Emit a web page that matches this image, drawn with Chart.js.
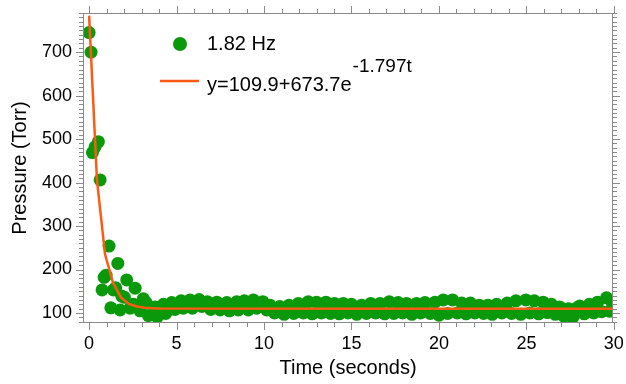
<!DOCTYPE html>
<html>
<head>
<meta charset="utf-8">
<script src="https://cdn.jsdelivr.net/npm/chart.js@4/dist/chart.umd.min.js"></script>
<style>
  html, body { margin: 0; padding: 0; background: #fff; }
</style>
</head>
<body>
<canvas id="chart" width="626" height="384"></canvas>
<script>
// measured points (seconds, Torr)
const times = [
  0.00, 0.11, 0.19, 0.34, 0.53, 0.63, 0.74, 0.86, 0.97, 1.14,
  1.24, 1.39, 1.52, 1.64, 1.77, 1.86, 2.02, 2.15, 2.34, 2.53,
  2.63, 2.91, 3.10, 3.26, 3.39, 3.77, 3.90, 4.25, 4.38, 4.72,
  4.91, 5.26, 5.39, 5.77, 5.90, 6.29, 6.44, 6.76, 6.95, 7.30,
  7.49, 7.87, 8.02, 8.44, 8.53, 8.87, 9.10, 9.39, 9.58, 9.93,
  10.15, 10.34, 10.60, 10.90, 11.15, 11.43, 11.70, 11.96, 12.25, 12.53,
  12.75, 13.00, 13.28, 13.54, 13.80, 14.03, 14.30, 14.53, 14.80, 15.00,
  15.30, 15.58, 15.85, 16.10, 16.38, 16.63, 16.90, 17.16, 17.42, 17.67,
  17.92, 18.15, 18.45, 18.72, 18.95, 19.20, 19.50, 19.77, 20.00, 20.25,
  20.50, 20.78, 21.05, 21.30, 21.55, 21.80, 22.05, 22.30, 22.55, 22.80,
  23.05, 23.30, 23.60, 23.90, 24.15, 24.40, 24.68, 24.97, 25.20, 25.45,
  25.70, 25.96, 26.20, 26.43, 26.65, 26.90, 27.15, 27.40, 27.65, 27.90,
  28.05, 28.30, 28.60, 28.85, 29.07, 29.30, 29.58, 29.75, 29.90
];
const pressure = [
  745, 700, 469, 482, 494, 406, 153, 182, 187, 254,
  112, 153, 158, 214, 107, 139, 136, 176, 111, 120,
  157, 105, 133, 124, 94, 114, 91, 120, 99, 124,
  108, 128, 111, 130, 111, 131, 115, 126, 108, 125,
  107, 124, 105, 126, 107, 128, 107, 130, 111, 126,
  107, 118, 100, 115, 97, 118, 99, 122, 100, 126,
  98, 125, 100, 125, 99, 122, 98, 122, 100, 120,
  97, 118, 99, 122, 100, 122, 98, 126, 99, 124,
  100, 122, 97, 122, 100, 124, 99, 125, 95, 130,
  99, 130, 100, 123, 98, 123, 100, 118, 99, 118,
  97, 120, 100, 123, 99, 128, 97, 130, 100, 128,
  98, 125, 101, 120, 97, 114, 92, 110, 90, 112,
  116, 98, 120, 100, 125, 103, 135, 104, 125
];

// fitted curve as drawn
const fitTimes  = [0, 0.45, 0.91, 1.36, 1.82, 2.27, 2.73, 3.18, 3.64, 4.10, 30];
const fitValues = [784, 405, 235, 170, 136, 121, 115, 112, 111, 110.5, 110];

const xTicks = [0, 5, 10, 15, 20, 25, 30];
const yTicks = [100, 200, 300, 400, 500, 600, 700];

const seriesLabel = '1.82 Hz';
const fitLabel = 'y=109.9+673.7e';
const fitExp = '-1.797t';

const dotColor = '#0a990a';
const lineColor = '#ff5a14';
const axisColor = '#8a8a8a';
const FONT = "'Liberation Sans', Arial, sans-serif";

// frame, minor ticks and the legend
const frameTicks = {
  id: 'frameTicks',
  afterDraw(chart) {
    const { ctx, chartArea: a, scales: { x, y } } = chart;
    ctx.save();
    ctx.strokeStyle = axisColor;
    ctx.lineWidth = 1;
    ctx.strokeRect(a.left + 0.5, a.top + 0.5, a.right - a.left - 1, a.bottom - a.top - 1);
    ctx.beginPath();
    for (let v = 0; v <= 30; v++) {
      const px = Math.round(x.getPixelForValue(v)) + 0.5;
      const len = v % 5 === 0 ? 7 : 4;
      ctx.moveTo(px, a.bottom); ctx.lineTo(px, a.bottom + len);
      ctx.moveTo(px, a.top); ctx.lineTo(px, a.top - len);
    }
    for (let v = 80; v <= 790; v += 10) {
      const py = Math.round(y.getPixelForValue(v)) + 0.5;
      const len = v % 100 === 0 ? 7 : 4;
      ctx.moveTo(a.left, py); ctx.lineTo(a.left - len, py);
      ctx.moveTo(a.right, py); ctx.lineTo(a.right + len, py);
    }
    ctx.stroke();

    // legend
    const lx = a.left + 97, ly = a.top + 31;
    ctx.fillStyle = dotColor;
    ctx.beginPath();
    ctx.arc(lx, ly, 7, 0, Math.PI * 2);
    ctx.fill();
    ctx.fillStyle = '#000';
    ctx.font = '20px ' + FONT;
    ctx.textBaseline = 'middle';
    ctx.fillText(seriesLabel, lx + 27, ly);

    const ly2 = ly + 37;
    ctx.strokeStyle = lineColor;
    ctx.lineWidth = 2.5;
    ctx.beginPath();
    ctx.moveTo(lx - 20, ly2); ctx.lineTo(lx + 19, ly2);
    ctx.stroke();
    ctx.fillText(fitLabel, lx + 27, ly2 + 4);
    const w = ctx.measureText(fitLabel).width;
    ctx.font = '19px ' + FONT;
    ctx.fillText(fitExp, lx + 28 + w, ly2 - 14);
    ctx.restore();
  }
};

new Chart(document.getElementById('chart'), {
  data: {
    datasets: [
      {
        type: 'line',
        label: fitLabel,
        data: fitTimes.map((t, i) => ({ x: t, y: fitValues[i] })),
        borderColor: lineColor,
        borderWidth: 2.5,
        pointRadius: 0,
        tension: 0,
        order: 0
      },
      {
        type: 'scatter',
        label: seriesLabel,
        data: times.map((t, i) => ({ x: t, y: pressure[i] })),
        backgroundColor: dotColor,
        borderColor: dotColor,
        pointRadius: 6.5,
        borderWidth: 0,
        order: 1
      }
    ]
  },
  options: {
    responsive: false,
    animation: false,
    layout: { padding: { top: 13, right: 13, left: 0, bottom: 0 } },
    plugins: { legend: { display: false }, tooltip: { enabled: false } },
    scales: {
      x: {
        type: 'linear',
        min: -0.35,
        max: 29.95,
        afterBuildTicks: s => { s.ticks = xTicks.map(v => ({ value: v })); },
        afterFit: s => { s.height = 61; },
        grid: { display: false, drawTicks: true, tickLength: 10 },
        border: { display: false },
        ticks: { color: '#000', font: { family: FONT, size: 18 }, padding: 0, maxRotation: 0 },
        title: { display: true, text: 'Time (seconds)', color: '#000', font: { family: FONT, size: 20 }, padding: { top: 0, bottom: 4 } }
      },
      y: {
        type: 'linear',
        min: 77,
        max: 790,
        afterBuildTicks: s => { s.ticks = yTicks.map(v => ({ value: v })); },
        afterFit: s => { s.width = 83; },
        grid: { display: false, drawTicks: true, tickLength: 11 },
        border: { display: false },
        ticks: { color: '#000', font: { family: FONT, size: 18 }, padding: 0 },
        title: { display: true, text: 'Pressure (Torr)', color: '#000', font: { family: FONT, size: 20 }, padding: { top: 8, bottom: 0 } }
      }
    }
  },
  plugins: [frameTicks]
});
</script>
</body>
</html>
